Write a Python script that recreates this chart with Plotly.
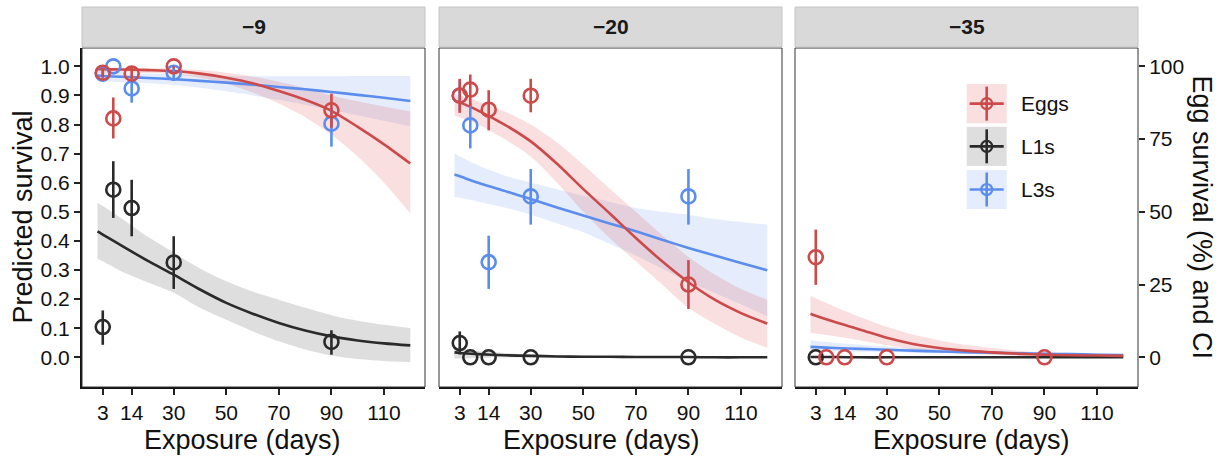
import plotly.graph_objects as go

# ---------------- data ----------------
panel_titles = ["\u22129", "\u221220", "\u221235"]
obs_days = [3, 7, 14, 30, 90]
fit_days = [1, 3, 10, 20, 30, 40, 50, 60, 70, 80, 90, 100, 110, 120]
x_tick_vals = [3, 14, 30, 50, 70, 90, 110]
y_tick_vals = [0.0, 0.1, 0.2, 0.3, 0.4, 0.5, 0.6, 0.7, 0.8, 0.9, 1.0]
y_tick_text = ["0.0", "0.1", "0.2", "0.3", "0.4", "0.5", "0.6", "0.7", "0.8", "0.9", "1.0"]
egg_pct_ticks = [0, 25, 50, 75, 100]
stages = ["Eggs", "L1s", "L3s"]

# ---- -9 ----
m9_eggs_y = [0.978, 0.821, 0.975, 1.000, 0.849]
m9_eggs_hi = [0.990, 0.893, 0.995, 1.000, 0.906]
m9_eggs_lo = [0.962, 0.752, 0.955, 0.992, 0.789]
m9_l1_y = [0.104, 0.576, 0.513, 0.326, 0.053]
m9_l1_hi = [0.161, 0.674, 0.610, 0.416, 0.093]
m9_l1_lo = [0.043, 0.479, 0.416, 0.235, 0.009]
m9_l3_y = [0.975, 1.000, 0.924, 0.978, 0.803]
m9_l3_hi = [0.990, 1.000, 0.950, 0.997, 0.858]
m9_l3_lo = [0.957, 1.000, 0.875, 0.950, 0.724]

m9_eggs_fit = [0.990, 0.990, 0.989, 0.987, 0.984, 0.975, 0.961, 0.942, 0.915, 0.885, 0.847, 0.792, 0.732, 0.666]
m9_eggs_fit_hi = [0.996, 0.996, 0.995, 0.994, 0.992, 0.987, 0.978, 0.965, 0.947, 0.925, 0.900, 0.880, 0.862, 0.845]
m9_eggs_fit_lo = [0.978, 0.979, 0.979, 0.977, 0.973, 0.961, 0.940, 0.910, 0.872, 0.825, 0.765, 0.690, 0.600, 0.495]
m9_l1_fit = [0.433, 0.422, 0.385, 0.332, 0.284, 0.233, 0.187, 0.150, 0.118, 0.092, 0.072, 0.058, 0.048, 0.041]
m9_l1_fit_hi = [0.530, 0.520, 0.478, 0.415, 0.360, 0.305, 0.261, 0.226, 0.198, 0.170, 0.145, 0.126, 0.112, 0.101]
m9_l1_fit_lo = [0.338, 0.330, 0.296, 0.258, 0.222, 0.170, 0.129, 0.090, 0.055, 0.027, 0.006, -0.006, -0.013, -0.016]
m9_l3_fit = [0.968, 0.967, 0.964, 0.960, 0.956, 0.950, 0.944, 0.937, 0.929, 0.921, 0.912, 0.902, 0.892, 0.881]
m9_l3_fit_hi = [0.982, 0.981, 0.978, 0.975, 0.972, 0.969, 0.967, 0.966, 0.966, 0.966, 0.966, 0.967, 0.967, 0.967]
m9_l3_fit_lo = [0.948, 0.948, 0.946, 0.942, 0.936, 0.926, 0.914, 0.900, 0.885, 0.868, 0.850, 0.832, 0.813, 0.794]

# ---- -20 ----
m20_eggs_y = [0.899, 0.920, 0.851, 0.899, 0.250]
m20_eggs_hi = [0.957, 0.972, 0.918, 0.957, 0.334]
m20_eggs_lo = [0.840, 0.862, 0.780, 0.842, 0.166]
m20_l1_y = [0.049, 0.000, 0.000, 0.000, 0.000]
m20_l1_hi = [0.089, 0.000, 0.000, 0.000, 0.000]
m20_l1_lo = [0.010, 0.000, 0.000, 0.000, 0.000]
m20_l3_y = [0.900, 0.797, 0.327, 0.553, 0.553]
m20_l3_hi = [0.950, 0.873, 0.418, 0.647, 0.647]
m20_l3_lo = [0.845, 0.718, 0.235, 0.456, 0.456]

m20_eggs_fit = [0.883, 0.876, 0.848, 0.800, 0.742, 0.665, 0.578, 0.495, 0.410, 0.330, 0.258, 0.198, 0.152, 0.116]
m20_eggs_fit_hi = [0.905, 0.900, 0.880, 0.845, 0.800, 0.738, 0.662, 0.580, 0.500, 0.420, 0.345, 0.285, 0.235, 0.198]
m20_eggs_fit_lo = [0.830, 0.825, 0.800, 0.750, 0.690, 0.600, 0.500, 0.410, 0.330, 0.250, 0.170, 0.115, 0.068, 0.033]
m20_l1_fit = [0.017, 0.015, 0.011, 0.007, 0.005, 0.003, 0.002, 0.002, 0.001, 0.001, 0.001, 0.000, 0.000, 0.000]
m20_l1_fit_hi = [0.032, 0.029, 0.022, 0.015, 0.010, 0.007, 0.005, 0.004, 0.003, 0.002, 0.002, 0.001, 0.001, 0.001]
m20_l1_fit_lo = [-0.005, -0.004, -0.002, -0.001, 0.000, 0.000, 0.000, 0.000, 0.000, 0.000, 0.000, 0.000, 0.000, 0.000]
m20_l3_fit = [0.628, 0.622, 0.600, 0.572, 0.544, 0.515, 0.487, 0.460, 0.433, 0.404, 0.376, 0.350, 0.324, 0.299]
m20_l3_fit_hi = [0.702, 0.690, 0.660, 0.625, 0.600, 0.578, 0.555, 0.535, 0.513, 0.500, 0.490, 0.475, 0.465, 0.456]
m20_l3_fit_lo = [0.551, 0.548, 0.535, 0.515, 0.490, 0.460, 0.430, 0.390, 0.350, 0.305, 0.260, 0.222, 0.182, 0.141]

# ---- -35 ----
m35_eggs_y = [0.344, 0.000, 0.000, 0.000, 0.000]
m35_eggs_hi = [0.439, 0.000, 0.000, 0.000, 0.000]
m35_eggs_lo = [0.249, 0.000, 0.000, 0.000, 0.000]
m35_l1_days = [3]
m35_l1_y = [0.000]

m35_eggs_fit = [0.150, 0.143, 0.122, 0.095, 0.067, 0.046, 0.032, 0.023, 0.017, 0.012, 0.009, 0.007, 0.006, 0.005]
m35_eggs_fit_hi = [0.212, 0.203, 0.175, 0.138, 0.105, 0.078, 0.058, 0.043, 0.032, 0.023, 0.017, 0.013, 0.011, 0.010]
m35_eggs_fit_lo = [0.084, 0.082, 0.073, 0.058, 0.042, 0.028, 0.018, 0.012, 0.008, 0.005, 0.004, 0.003, 0.002, 0.002]
m35_l1_fit = [0.001, 0.001, 0.001, 0.000, 0.000, 0.000, 0.000, 0.000, 0.000, 0.000, 0.000, 0.000, 0.000, 0.000]
m35_l1_fit_hi = [0.004, 0.004, 0.003, 0.002, 0.001, 0.001, 0.001, 0.000, 0.000, 0.000, 0.000, 0.000, 0.000, 0.000]
m35_l1_fit_lo = [-0.002, -0.002, -0.001, -0.001, 0.000, 0.000, 0.000, 0.000, 0.000, 0.000, 0.000, 0.000, 0.000, 0.000]
m35_l3_fit = [0.036, 0.035, 0.032, 0.029, 0.026, 0.023, 0.020, 0.018, 0.016, 0.014, 0.012, 0.011, 0.009, 0.008]
m35_l3_fit_hi = [0.058, 0.056, 0.050, 0.043, 0.037, 0.032, 0.028, 0.025, 0.022, 0.019, 0.017, 0.015, 0.013, 0.012]
m35_l3_fit_lo = [0.022, 0.022, 0.021, 0.019, 0.017, 0.015, 0.013, 0.011, 0.010, 0.008, 0.007, 0.006, 0.005, 0.004]

# ---------------- style ----------------
FONT = "Liberation Sans, Arial, Helvetica, sans-serif"
COL = {"Eggs": "#CD4A4A", "L1s": "#2A2A2A", "L3s": "#5B8DEE"}
FILL = {"Eggs": "rgba(222,80,80,0.18)", "L1s": "rgba(60,60,60,0.17)", "L3s": "rgba(100,150,240,0.17)"}

W, H = 1221, 460
ML, MR, MT, MB = 82, 83, 48, 73
PW, PH = W - ML - MR, H - MT - MB


def px_x(px):
    return (px - ML) / PW


def px_y(py):
    return (H - MB - py) / PH


domains = [[px_x(82), px_x(425)], [px_x(439), px_x(782)], [px_x(795), px_x(1138)]]
XR = [-4.9, 125.6]
YR = [-0.102, 1.063]

fig = go.Figure()


def band(xa, ya, hi, lo, stage):
    fig.add_trace(go.Scatter(
        x=fit_days, y=lo, xaxis=xa, yaxis=ya, mode="lines",
        line=dict(width=0, shape="spline", smoothing=0.8, color=FILL[stage]),
        hoverinfo="skip", showlegend=False))
    fig.add_trace(go.Scatter(
        x=fit_days, y=hi, xaxis=xa, yaxis=ya, mode="lines", fill="tonexty",
        fillcolor=FILL[stage], line=dict(width=0, shape="spline", smoothing=0.8, color=FILL[stage]),
        hoverinfo="skip", showlegend=False))


def fitline(xa, ya, vals, stage):
    fig.add_trace(go.Scatter(
        x=fit_days, y=vals, xaxis=xa, yaxis=ya, mode="lines",
        line=dict(color=COL[stage], width=2.6, shape="spline", smoothing=0.8),
        showlegend=False))


def points(xa, ya, days, yv, hi, lo, stage):
    err = None
    if hi is not None:
        err = dict(type="data", symmetric=False,
                   array=[h - v for h, v in zip(hi, yv)],
                   arrayminus=[v - l for v, l in zip(yv, lo)],
                   color=COL[stage], thickness=2.6, width=0)
    fig.add_trace(go.Scatter(
        x=days, y=yv, xaxis=xa, yaxis=ya, mode="markers", error_y=err,
        marker=dict(symbol="circle-open", size=14, color=COL[stage],
                    line=dict(width=2.6, color=COL[stage])),
        showlegend=False))


# panel -9
band("x", "y", m9_l3_fit_hi, m9_l3_fit_lo, "L3s")
band("x", "y", m9_l1_fit_hi, m9_l1_fit_lo, "L1s")
band("x", "y", m9_eggs_fit_hi, m9_eggs_fit_lo, "Eggs")
fitline("x", "y", m9_l3_fit, "L3s")
fitline("x", "y", m9_l1_fit, "L1s")
fitline("x", "y", m9_eggs_fit, "Eggs")
points("x", "y", obs_days, m9_l3_y, m9_l3_hi, m9_l3_lo, "L3s")
points("x", "y", obs_days, m9_l1_y, m9_l1_hi, m9_l1_lo, "L1s")
points("x", "y", obs_days, m9_eggs_y, m9_eggs_hi, m9_eggs_lo, "Eggs")

# panel -20
band("x2", "y2", m20_l3_fit_hi, m20_l3_fit_lo, "L3s")
band("x2", "y2", m20_l1_fit_hi, m20_l1_fit_lo, "L1s")
band("x2", "y2", m20_eggs_fit_hi, m20_eggs_fit_lo, "Eggs")
fitline("x2", "y2", m20_l3_fit, "L3s")
fitline("x2", "y2", m20_l1_fit, "L1s")
fitline("x2", "y2", m20_eggs_fit, "Eggs")
points("x2", "y2", obs_days, m20_l3_y, m20_l3_hi, m20_l3_lo, "L3s")
points("x2", "y2", obs_days, m20_l1_y, m20_l1_hi, m20_l1_lo, "L1s")
points("x2", "y2", obs_days, m20_eggs_y, m20_eggs_hi, m20_eggs_lo, "Eggs")

# panel -35
band("x3", "y3", m35_l3_fit_hi, m35_l3_fit_lo, "L3s")
band("x3", "y3", m35_l1_fit_hi, m35_l1_fit_lo, "L1s")
band("x3", "y3", m35_eggs_fit_hi, m35_eggs_fit_lo, "Eggs")
fitline("x3", "y3", m35_l1_fit, "L1s")
fitline("x3", "y3", m35_l3_fit, "L3s")
fitline("x3", "y3", m35_eggs_fit, "Eggs")
points("x3", "y3", m35_l1_days, m35_l1_y, None, None, "L1s")
points("x3", "y3", obs_days, m35_eggs_y, m35_eggs_hi, m35_eggs_lo, "Eggs")

tickfont = dict(family=FONT, size=21, color="#111111")
xcommon = dict(range=XR, tickvals=x_tick_vals, ticks="outside", ticklen=6, tickwidth=1.5,
               tickcolor="#222222", showline=True, linewidth=2, linecolor="#111111",
               showgrid=False, zeroline=False, tickfont=tickfont, fixedrange=True)

layout = dict(
    width=W, height=H, margin=dict(l=ML, r=MR, t=MT, b=MB),
    paper_bgcolor="white", plot_bgcolor="white", showlegend=False,
    font=dict(family=FONT, color="#111111"),
)
for i, key in enumerate(["xaxis", "xaxis2", "xaxis3"]):
    layout[key] = dict(xcommon, domain=domains[i], anchor=["y", "y2", "y3"][i])

layout["yaxis"] = dict(domain=[0, 1], anchor="x", range=YR, tickvals=y_tick_vals, ticktext=y_tick_text,
                       ticks="outside", ticklen=6, tickwidth=1.5, tickcolor="#222222",
                       showline=True, linewidth=2, linecolor="#111111", showgrid=False,
                       zeroline=False, tickfont=tickfont, fixedrange=True)
for key, anc in [("yaxis2", "x2"), ("yaxis3", "x3")]:
    layout[key] = dict(domain=[0, 1], anchor=anc, range=YR, showticklabels=False, ticks="",
                       showline=False, showgrid=False, zeroline=False, fixedrange=True)
layout["yaxis4"] = dict(overlaying="y3", anchor="x3", side="right",
                        range=[YR[0] * 100, YR[1] * 100], tickvals=egg_pct_ticks,
                        ticks="outside", ticklen=6, tickwidth=1.5, tickcolor="#222222",
                        showline=False, showgrid=False, zeroline=False, tickfont=tickfont,
                        fixedrange=True)
fig.update_layout(**layout)
# invisible trace to activate right axis
fig.add_trace(go.Scatter(x=[None], y=[None], xaxis="x3", yaxis="y4", showlegend=False))

shapes = []
annotations = []
for i, (d0, d1) in enumerate(domains):
    shapes.append(dict(type="rect", xref="paper", yref="paper", x0=d0, x1=d1, y0=0, y1=1,
                       line=dict(color="#333333", width=1), layer="above"))
    shapes.append(dict(type="rect", xref="paper", yref="paper", x0=d0, x1=d1,
                       y0=px_y(47), y1=px_y(7), fillcolor="#D9D9D9",
                       line=dict(color="#C4C4C4", width=1)))
    annotations.append(dict(text="<b>%s</b>" % panel_titles[i], xref="paper", yref="paper",
                            x=(d0 + d1) / 2, y=px_y(27), xanchor="center", yanchor="middle",
                            showarrow=False, font=dict(family=FONT, size=21, color="#1a1a1a")))

for cx in [242, 601, 971]:
    annotations.append(dict(text="Exposure (days)", xref="paper", yref="paper", x=px_x(cx),
                            y=px_y(440), xanchor="center", yanchor="middle", showarrow=False,
                            font=dict(family=FONT, size=27, color="#111111")))
annotations.append(dict(text="Predicted survival", xref="paper", yref="paper", x=px_x(22),
                        y=px_y(217.5), textangle=-90, xanchor="center", yanchor="middle",
                        showarrow=False, font=dict(family=FONT, size=27, color="#111111")))
annotations.append(dict(text="Egg survival (%) and CI", xref="paper", yref="paper", x=px_x(1202),
                        y=px_y(217.5), textangle=90, xanchor="center", yanchor="middle",
                        showarrow=False, font=dict(family=FONT, size=27, color="#111111")))

# legend (manual, ggplot-like keys)
key_rows = [(84, 123.3), (126.7, 166), (170, 209)]
kx0, kx1 = 966.7, 1006.7
kcx = (kx0 + kx1) / 2
for stage, (ky0, ky1) in zip(stages, key_rows):
    kcy = (ky0 + ky1) / 2
    shapes.append(dict(type="rect", xref="paper", yref="paper", x0=px_x(kx0), x1=px_x(kx1),
                       y0=px_y(ky1), y1=px_y(ky0), fillcolor=FILL[stage], line=dict(width=0)))
    shapes.append(dict(type="line", xref="paper", yref="paper", x0=px_x(kx0 + 3), x1=px_x(kx1 - 3),
                       y0=px_y(kcy), y1=px_y(kcy), line=dict(color=COL[stage], width=2.6)))
    shapes.append(dict(type="line", xref="paper", yref="paper", x0=px_x(kcx), x1=px_x(kcx),
                       y0=px_y(kcy + 17), y1=px_y(kcy - 17), line=dict(color=COL[stage], width=2.6)))
    shapes.append(dict(type="circle", xref="paper", yref="paper", x0=px_x(kcx - 5.5), x1=px_x(kcx + 5.5),
                       y0=px_y(kcy + 5.5), y1=px_y(kcy - 5.5), line=dict(color=COL[stage], width=2.2)))
    annotations.append(dict(text=stage, xref="paper", yref="paper", x=px_x(1019), y=px_y(kcy),
                            xanchor="left", yanchor="middle", showarrow=False,
                            font=dict(family=FONT, size=21, color="#111111")))

fig.update_layout(shapes=shapes, annotations=annotations)
fig.write_html("out.html", config={"displayModeBar": False},
               post_script="document.body.style.margin='0';document.body.style.overflow='hidden';")
